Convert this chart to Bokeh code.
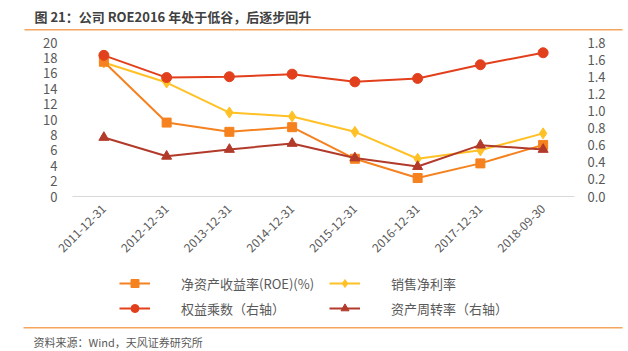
from bokeh.plotting import figure
from bokeh.models import (Range1d, LinearAxis, FixedTicker, NumeralTickFormatter,
                          Legend, LegendItem, Label, BoxAnnotation)
from bokeh.embed import file_html
from bokeh.resources import INLINE
import math

dates = ["2011-12-31", "2012-12-31", "2013-12-31", "2014-12-31",
         "2015-12-31", "2016-12-31", "2017-12-31", "2018-09-30"]
roe = [17.5, 9.6, 8.4, 9.0, 4.9, 2.4, 4.3, 6.7]          # 净资产收益率(ROE)(%)
npm = [17.4, 14.8, 10.9, 10.4, 8.4, 4.9, 6.0, 8.2]       # 销售净利率
em = [1.65, 1.39, 1.40, 1.43, 1.34, 1.38, 1.54, 1.68]    # 权益乘数（右轴）
at = [0.69, 0.47, 0.55, 0.62, 0.45, 0.35, 0.60, 0.55]    # 资产周转率（右轴）

left_ticks = [0, 2, 4, 6, 8, 10, 12, 14, 16, 18, 20]
right_ticks = [0.0, 0.2, 0.4, 0.6, 0.8, 1.0, 1.2, 1.4, 1.6, 1.8]

title_text = "图 21：公司 ROE2016 年处于低谷，后逐步回升"
source_text = "资料来源：Wind，天风证券研究所"
names = ["净资产收益率(ROE)(%)", "销售净利率", "权益乘数（右轴）", "资产周转率（右轴）"]

C_ROE = "#F5821F"
C_NPM = "#FFC125"
C_EM = "#E2401C"
C_AT = "#B23A2A"
C_SEP = "#F5A55F"
TXT = "#595959"
CJK = "Noto Sans CJK SC"

W, H = 628, 351
# plot area in pixels
FL, FR, FT, FB = 72, 574, 42, 196
n = len(dates)
xs = list(range(n))
dx = (FR - FL) / n                       # px per category
x0_px = FL + dx / 2                      # px of first category
x_start = -x0_px / dx
x_end = (W - x0_px) / dx
ly = (FB - FT) / 20.0                    # px per left unit
y_start = -(H - FB) / ly
y_end = 20 + FT / ly
ry = (FB - FT) / 1.8                     # px per right unit
r_start = -(H - FB) / ry
r_end = 1.8 + FT / ry


def X(px):
    return x_start + px / W * (x_end - x_start)


def Y(py):
    return y_end - py / H * (y_end - y_start)


p = figure(width=W, height=H, x_range=Range1d(x_start, x_end),
           y_range=Range1d(y_start, y_end),
           output_backend="svg", toolbar_location=None, tools="",
           min_border=0, min_border_left=0, min_border_right=0,
           min_border_top=0, min_border_bottom=0)
p.title.visible = False
p.outline_line_color = None
p.background_fill_color = "white"
p.border_fill_color = "white"
p.xgrid.visible = False
p.ygrid.visible = False

p.extra_y_ranges = {"right": Range1d(r_start, r_end)}

# left axis
ya = p.yaxis[0]
ya.fixed_location = -0.5
ya.ticker = FixedTicker(ticks=left_ticks)
ya.axis_line_color = None
ya.major_tick_line_color = None
ya.minor_tick_line_color = None
ya.major_tick_out = 0
ya.major_tick_in = 0
ya.major_label_standoff = 15
ya.major_label_text_font = CJK
ya.major_label_text_font_size = "13px"
ya.major_label_text_color = TXT

# right axis
ra = LinearAxis(y_range_name="right", ticker=FixedTicker(ticks=right_ticks),
                formatter=NumeralTickFormatter(format="0.0"))
ra.fixed_location = n - 0.5
ra.axis_line_color = None
ra.major_tick_line_color = None
ra.minor_tick_line_color = None
ra.major_tick_out = 0
ra.major_tick_in = 0
ra.major_label_standoff = 13
ra.major_label_text_font = CJK
ra.major_label_text_font_size = "13px"
ra.major_label_text_color = TXT
p.add_layout(ra, "right")

# x axis (category labels)
xa = p.xaxis[0]
xa.fixed_location = 0
xa.bounds = (-0.5, n - 0.5)
xa.ticker = FixedTicker(ticks=xs)
xa.major_label_overrides = {i: d for i, d in enumerate(dates)}
xa.axis_line_color = "#D9D9D9"
xa.axis_line_width = 1
xa.major_tick_line_color = None
xa.minor_tick_line_color = None
xa.major_tick_out = 0
xa.major_tick_in = 0
xa.major_label_standoff = 10
xa.major_label_orientation = math.pi / 4
xa.major_label_text_font = CJK
xa.major_label_text_font_size = "12px"
xa.major_label_text_color = TXT

# series
l_npm = p.line(xs, npm, color=C_NPM, line_width=2)
s_npm = p.scatter(xs, npm, marker="diamond", size=11, color=C_NPM)
l_roe = p.line(xs, roe, color=C_ROE, line_width=2)
s_roe = p.scatter(xs, roe, marker="square", size=9, color=C_ROE)
l_em = p.line(xs, em, color=C_EM, line_width=2, y_range_name="right")
s_em = p.scatter(xs, em, marker="circle", size=10, color=C_EM, y_range_name="right")
l_at = p.line(xs, at, color=C_AT, line_width=2, y_range_name="right")
s_at = p.scatter(xs, at, marker="triangle", size=10, color=C_AT, y_range_name="right")

items = [
    LegendItem(label=names[0], renderers=[l_roe, s_roe]),
    LegendItem(label=names[2], renderers=[l_em, s_em]),
    LegendItem(label=names[1], renderers=[l_npm, s_npm]),
    LegendItem(label=names[3], renderers=[l_at, s_at]),
]
leg = Legend(items=items, ncols=2, orientation="vertical",
             location=(119, H - 318),
             glyph_width=31, glyph_height=20, label_height=20,
             label_standoff=31, label_width=143, spacing=5,
             padding=0, margin=0, border_line_color=None,
             background_fill_alpha=0,
             label_text_font=CJK, label_text_font_size="13px",
             label_text_color=TXT)
p.add_layout(leg, "center")

# title, source and separator lines
p.add_layout(Label(x=X(34), y=Y(16), text=title_text, text_font=CJK,
                   text_font_size="13px", text_font_style="bold",
                   text_color="#404040", text_baseline="middle", text_align="left"))
p.add_layout(Label(x=X(33), y=Y(341), text=source_text, text_font=CJK,
                   text_font_size="11px", text_color=TXT,
                   text_baseline="middle", text_align="left"))
p.add_layout(BoxAnnotation(left=X(24), right=X(622), top=Y(28.5), bottom=Y(30),
                           fill_color=C_SEP, fill_alpha=1, line_color=None))
p.add_layout(BoxAnnotation(left=X(23), right=X(622), top=Y(326.5), bottom=Y(328),
                           fill_color=C_SEP, fill_alpha=1, line_color=None))

open("out.html", "w").write(file_html(p, INLINE))
